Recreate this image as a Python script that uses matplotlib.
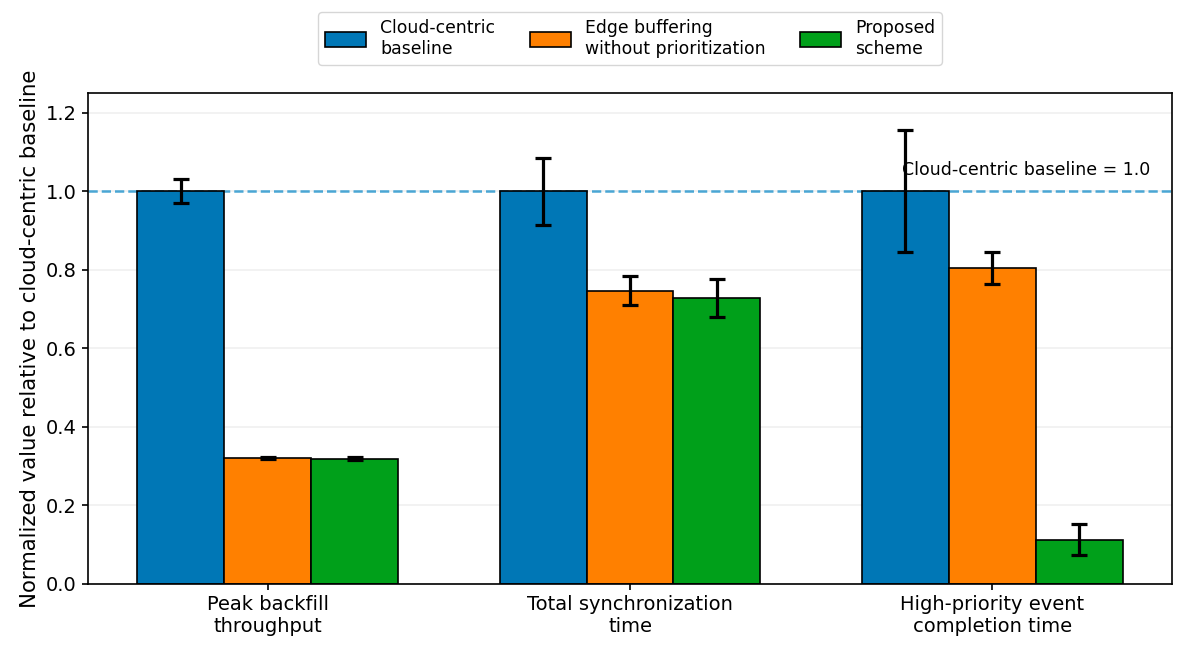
import numpy as np
import matplotlib
matplotlib.use('Agg')
import matplotlib.pyplot as plt

# --- data ---
categories = ['Peak backfill\nthroughput', 'Total synchronization\ntime',
              'High-priority event\ncompletion time']
series_names = ['Cloud-centric\nbaseline', 'Edge buffering\nwithout prioritization',
                'Proposed\nscheme']
baseline_vals = [1.0, 1.0, 1.0]
baseline_err = [0.03, 0.085, 0.155]
edge_vals = [0.320, 0.746, 0.804]
edge_err = [0.003, 0.037, 0.041]
proposed_vals = [0.319, 0.728, 0.113]
proposed_err = [0.003, 0.048, 0.040]

colors = ['#0077B6', '#FF8000', '#00A01A']

# --- plot ---
fig, ax = plt.subplots(figsize=(11.82, 6.53), dpi=100)
fig.subplots_adjust(left=0.0745, right=0.9915, top=0.8576, bottom=0.1057)
x = np.arange(len(categories))
width = 0.24

ax.axhline(1.0, color='#4AA6D4', linestyle='--', linewidth=1.8, zorder=1)
ax.grid(axis='y', color='#f0f0f0', linewidth=1.2, zorder=0)
ax.set_axisbelow(True)

all_vals = [baseline_vals, edge_vals, proposed_vals]
all_err = [baseline_err, edge_err, proposed_err]
for i, (vals, errs) in enumerate(zip(all_vals, all_err)):
    ax.bar(x + (i - 1) * width, vals, width, yerr=errs, color=colors[i],
           edgecolor='black', linewidth=1.2, label=series_names[i], zorder=2,
           error_kw=dict(ecolor='black', elinewidth=2.3, capsize=6, capthick=2.3))

ax.text(1.75, 1.03, 'Cloud-centric baseline = 1.0', fontsize=12.5, ha='left', va='bottom')

ax.set_ylim(0, 1.25)
ax.set_xticks(x)
ax.set_xticklabels(categories, fontsize=14)
ax.tick_params(axis='y', labelsize=14)
ax.tick_params(width=1.2, length=4.5)
for s in ax.spines.values():
    s.set_linewidth(1.2)
ax.set_ylabel('Normalized value relative to cloud-centric baseline', fontsize=15.3)
ax.legend(loc='lower center', bbox_to_anchor=(0.5, 1.04), ncol=3, fontsize=12.4,
          frameon=True, handlelength=2.4, handleheight=0.9)

fig.savefig('out.png', dpi=100)
